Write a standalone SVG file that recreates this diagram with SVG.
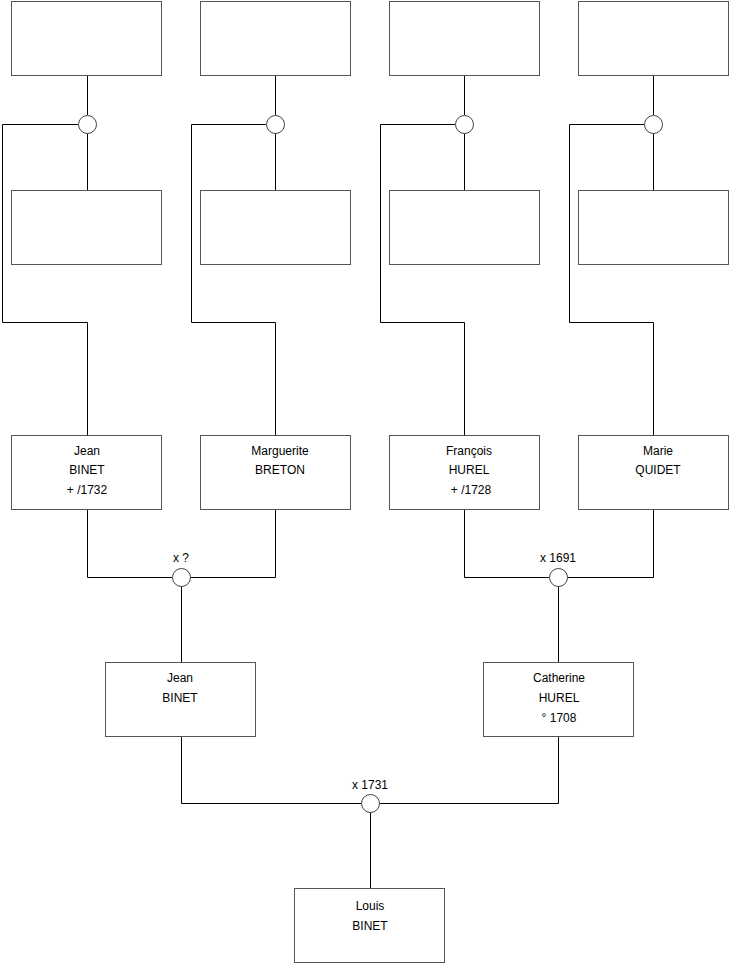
<svg xmlns="http://www.w3.org/2000/svg" width="740" height="975" viewBox="0 0 740 975">
<style>
.box{fill:#fff;stroke:#555;stroke-width:1}
.c{fill:none;stroke:#000;stroke-width:1}
.m{fill:#fff;stroke:#444;stroke-width:1}
text{font-family:"Liberation Sans",Arial,sans-serif;font-size:12px;fill:#000;text-anchor:middle}
</style>
<rect width="740" height="975" fill="#fff"/>
<g id="connectors">
<path class="c" d="M87.5 76V115M87.5 133V190M78 124.5H2.5V322.5H87.5V435"/>
<path class="c" d="M275.5 76V115M275.5 133V190M266 124.5H191.5V322.5H275.5V435"/>
<path class="c" d="M464.5 76V115M464.5 133V190M455 124.5H380.5V322.5H464.5V435"/>
<path class="c" d="M653.5 76V115M653.5 133V190M644 124.5H569.5V322.5H653.5V435"/>
<path class="c" d="M87.5 510V577.5H172M275.5 510V577.5H190M181.5 586V662"/>
<path class="c" d="M464.5 510V577.5H549M653.5 510V577.5H567M558.5 586V662"/>
<path class="c" d="M181.5 737V803.5H361M558.5 737V803.5H379M370.5 812V888"/>
</g>
<g id="marriages">
<circle class="m" cx="87.5" cy="124.5" r="9"/>
<circle class="m" cx="275.5" cy="124.5" r="9"/>
<circle class="m" cx="464.5" cy="124.5" r="9"/>
<circle class="m" cx="653.5" cy="124.5" r="9"/>
<circle class="m" cx="181.5" cy="577.5" r="9"/>
<text x="181" y="562">x ?</text>
<circle class="m" cx="558.5" cy="577.5" r="9"/>
<text x="558" y="562">x 1691</text>
<circle class="m" cx="370.5" cy="803.5" r="9"/>
<text x="370" y="789">x 1731</text>
</g>
<g id="gg1"><rect class="box" x="11.5" y="1.5" width="150" height="74"/></g>
<g id="gg2"><rect class="box" x="11.5" y="190.5" width="150" height="74"/></g>
<g id="gg3"><rect class="box" x="200.5" y="1.5" width="150" height="74"/></g>
<g id="gg4"><rect class="box" x="200.5" y="190.5" width="150" height="74"/></g>
<g id="gg5"><rect class="box" x="389.5" y="1.5" width="150" height="74"/></g>
<g id="gg6"><rect class="box" x="389.5" y="190.5" width="150" height="74"/></g>
<g id="gg7"><rect class="box" x="578.5" y="1.5" width="150" height="74"/></g>
<g id="gg8"><rect class="box" x="578.5" y="190.5" width="150" height="74"/></g>
<g id="jean-binet-sr"><rect class="box" x="11.5" y="435.5" width="150" height="74"/>
<text x="87" y="455">Jean</text><text x="87" y="474">BINET</text><text x="87" y="494">+ /1732</text></g>
<g id="marguerite-breton"><rect class="box" x="200.5" y="435.5" width="150" height="74"/>
<text x="280" y="455">Marguerite</text><text x="280" y="474">BRETON</text></g>
<g id="francois-hurel"><rect class="box" x="389.5" y="435.5" width="150" height="74"/>
<text x="469" y="455">François</text><text x="469" y="474">HUREL</text><text x="471" y="494">+ /1728</text></g>
<g id="marie-quidet"><rect class="box" x="578.5" y="435.5" width="150" height="74"/>
<text x="658" y="455">Marie</text><text x="658" y="474">QUIDET</text></g>
<g id="jean-binet"><rect class="box" x="105.5" y="662.5" width="150" height="74"/>
<text x="180" y="682">Jean</text><text x="180" y="702">BINET</text></g>
<g id="catherine-hurel"><rect class="box" x="483.5" y="662.5" width="150" height="74"/>
<text x="559" y="682">Catherine</text><text x="559" y="702">HUREL</text><text x="559" y="722">° 1708</text></g>
<g id="louis-binet"><rect class="box" x="294.5" y="888.5" width="150" height="74"/>
<text x="370" y="910">Louis</text><text x="370" y="930">BINET</text></g>
</svg>
